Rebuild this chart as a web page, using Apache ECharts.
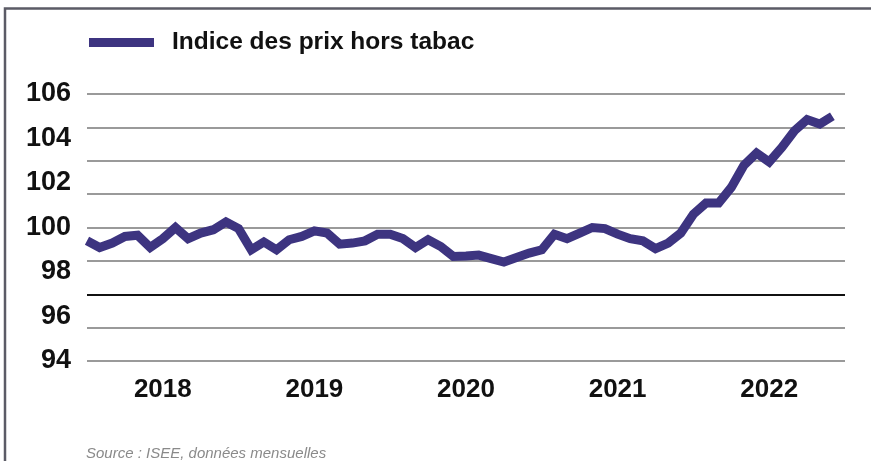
<!DOCTYPE html>
<html>
<head>
<meta charset="utf-8">
<script src="https://cdn.jsdelivr.net/npm/echarts@6/dist/echarts.min.js"></script>
<style>
  html, body { margin: 0; padding: 0; background: #fff; }
  #chart { width: 871px; height: 461px; }
</style>
</head>
<body>
<div id="chart"></div>
<script>
// données mensuelles, janvier 2018 -> décembre 2022
const years = [2018, 2019, 2020, 2021, 2022];
const monthNums = ["01", "02", "03", "04", "05", "06", "07", "08", "09", "10", "11", "12"];
const indexValues = [
  99.4, 99.1, 99.3, 99.6, 99.65, 99.1, 99.5, 100.0, 99.5, 99.75, 99.9, 100.25,
  99.95, 99.0, 99.35, 99.0, 99.45, 99.6, 99.85, 99.75, 99.25, 99.3, 99.4, 99.7,
  99.7, 99.5, 99.1, 99.45, 99.15, 98.7, 98.72, 98.76, 98.6, 98.45, 98.65, 98.85,
  99.0, 99.7, 99.5, 99.75, 100.0, 99.95, 99.7, 99.5, 99.4, 99.05, 99.3, 99.75,
  100.6, 101.1, 101.1, 101.8, 102.8, 103.35, 102.95, 103.6, 104.35, 104.85, 104.65, 105.0
];
const yTicks = { min: 94, max: 106, step: 2 };
const seriesName = "Indice des prix hors tabac";
const sourceText = "Source : ISEE, données mensuelles";

let months = [];
years.forEach(y => monthNums.forEach(m => months.push(y + "-" + m)));

const font = "'Liberation Sans', Arial, sans-serif";
const purple = "#3d3480";

let myChart = echarts.init(document.getElementById("chart"));
myChart.setOption({
  animation: false,
  backgroundColor: "#fff",
  grid: { left: 87, right: 26, top: 94, bottom: 100 },
  legend: {
    left: 84,
    top: 25,
    icon: "rect",
    itemWidth: 65,
    itemHeight: 9,
    textStyle: {
      fontFamily: font,
      fontWeight: "bold",
      fontSize: 24.5,
      color: "#111",
      padding: [0, 0, 0, 13],
    },
    data: [seriesName],
  },
  xAxis: {
    type: "category",
    data: months,
    boundaryGap: false,
    max: months.length,
    axisLine: { show: false },
    axisTick: { show: false },
    splitLine: { show: false },
    axisLabel: {
      interval: (i) => i % 12 === 6,
      formatter: (v) => (v ? v.slice(0, 4) : ""),
      fontFamily: font,
      fontWeight: "bold",
      fontSize: 26,
      color: "#111",
      margin: 16,
    },
  },
  yAxis: [
    {
      type: "value",
      min: yTicks.min,
      max: yTicks.max,
      interval: yTicks.step,
      axisLine: { show: false },
      axisTick: { show: false },
      splitLine: { show: false },
      axisLabel: {
        fontFamily: font,
        fontWeight: "bold",
        fontSize: 27,
        color: "#111",
        margin: 16,
      },
    },
    {
      // lignes de grille (9 lignes, la 3e en noir)
      type: "value",
      min: 0,
      max: 8,
      interval: 1,
      position: "left",
      axisLine: { show: false },
      axisTick: { show: false },
      axisLabel: { show: false },
      splitLine: {
        show: true,
        lineStyle: {
          width: 2,
          color: ["#9a9a9a", "#9a9a9a", "#111", "#9a9a9a", "#9a9a9a", "#9a9a9a", "#9a9a9a", "#9a9a9a", "#9a9a9a"],
        },
      },
    },
  ],
  series: [
    {
      name: seriesName,
      type: "line",
      data: indexValues,
      yAxisIndex: 0,
      symbol: "none",
      z: 5,
      lineStyle: { color: purple, width: 9, join: "miter" },
      itemStyle: { color: purple },
    },
  ],
  graphic: [
    {
      type: "polyline",
      shape: { points: [[5, 461], [5, 8.5], [871, 8.5]] },
      style: { stroke: "#5b5b66", lineWidth: 2.5, fill: null },
    },
    {
      type: "text",
      left: 86,
      top: 446,
      style: {
        text: sourceText,
        fontFamily: font,
        fontStyle: "italic",
        fontSize: 15,
        fill: "#8a8a8a",
      },
    },
  ],
});
</script>
</body>
</html>
